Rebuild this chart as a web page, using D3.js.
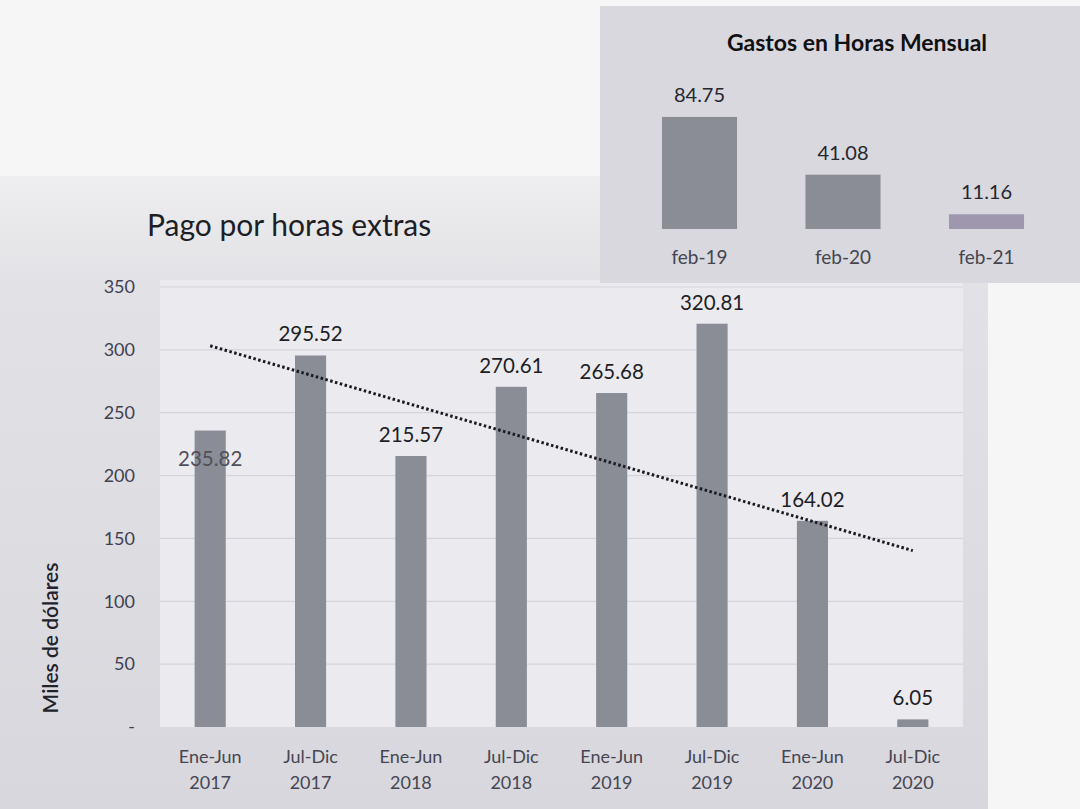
<!DOCTYPE html>
<html>
<head>
<meta charset="utf-8">
<script src="https://cdn.jsdelivr.net/npm/d3@7"></script>
<style>
  body { margin: 0; background: #f6f6f6; }
  svg { display: block; font-family: Lato, "Open Sans", sans-serif; }
</style>
</head>
<body>
<script>
const W = 1080;
const H = 809;

// main chart data
const periods = ["Ene-Jun", "Jul-Dic", "Ene-Jun", "Jul-Dic", "Ene-Jun", "Jul-Dic", "Ene-Jun", "Jul-Dic"];
const years = ["2017", "2017", "2018", "2018", "2019", "2019", "2020", "2020"];
const pagos = [235.82, 295.52, 215.57, 270.61, 265.68, 320.81, 164.02, 6.05];
const yTicks = [0, 50, 100, 150, 200, 250, 300, 350];
const insideLabels = [0]; // index of the label drawn inside its bar

// inset data
const meses = ["feb-19", "feb-20", "feb-21"];
const gastos = [84.75, 41.08, 11.16];

const svg = d3.select("body")
  .append("svg")
  .attr("width", W)
  .attr("height", H);

// ---- main panel ----
const defs = svg.append("defs");
const grad = defs.append("linearGradient")
  .attr("id", "panelGrad")
  .attr("x1", 0).attr("y1", 0).attr("x2", 0).attr("y2", 1);
grad.append("stop").attr("offset", "0").attr("stop-color", "#eeeef0");
grad.append("stop").attr("offset", "0.17").attr("stop-color", "#e2e2e6");
grad.append("stop").attr("offset", "1").attr("stop-color", "#d7d7dd");

svg.append("rect")
  .attr("x", 0).attr("y", 176)
  .attr("width", 988).attr("height", H - 176)
  .attr("fill", "url(#panelGrad)");

const Lpad = 160, Rpad = 963, Tpad = 287, Bpad = 727;

svg.append("rect")
  .attr("x", Lpad).attr("y", 280)
  .attr("width", Rpad - Lpad).attr("height", Bpad - 280)
  .attr("fill", "#ebebef");

const xScale = d3.scaleBand()
  .domain(d3.range(pagos.length))
  .range([Lpad, Rpad])
  .paddingInner(0.69)
  .paddingOuter(0.345);

const yScale = d3.scaleLinear()
  .domain([0, 350])
  .range([Bpad, Tpad]);

// gridlines
svg.append("g")
  .selectAll("line")
  .data(yTicks.slice(1))
  .enter()
  .append("line")
  .attr("x1", Lpad).attr("x2", Rpad)
  .attr("y1", d => yScale(d)).attr("y2", d => yScale(d))
  .attr("stroke", "#d3d3db")
  .attr("stroke-width", 1.2);

const yAxis = d3.axisLeft(yScale)
  .tickValues(yTicks)
  .tickSize(0)
  .tickPadding(0)
  .tickFormat(d => d === 0 ? "-" : d);

svg.append("g")
  .attr("transform", "translate(135,0)")
  .call(yAxis)
  .call(g => g.select(".domain").remove())
  .call(g => g.selectAll("text")
    .attr("fill", "#404050")
    .style("font-size", "18px")
    .style("font-family", "Lato, sans-serif"));

svg.append("text")
  .text("Miles de dólares")
  .attr("transform", "translate(58,638) rotate(-90)")
  .attr("text-anchor", "middle")
  .attr("fill", "#22222c")
  .style("font-size", "21px")
  .style("font-weight", "600");

// bars
svg.selectAll(".bar")
  .data(pagos)
  .enter()
  .append("rect")
  .attr("class", "bar")
  .attr("x", (d, i) => xScale(i))
  .attr("y", d => yScale(d))
  .attr("width", xScale.bandwidth())
  .attr("height", d => Bpad - yScale(d))
  .attr("fill", "#8a8c96");

// trendline (least squares)
const n = pagos.length;
const xMean = (n - 1) / 2;
const yMean = d3.mean(pagos);
const slope = d3.sum(pagos, (d, i) => (i - xMean) * (d - yMean)) / d3.sum(pagos, (d, i) => (i - xMean) ** 2);
const trend = [0, n - 1].map(i => [i, yMean + slope * (i - xMean)]);

svg.append("path")
  .datum(trend)
  .attr("d", d3.line()
    .x(d => xScale(d[0]) + xScale.bandwidth() / 2)
    .y(d => yScale(d[1])))
  .attr("fill", "none")
  .attr("stroke", "#1a1a22")
  .attr("stroke-width", 3)
  .attr("stroke-dasharray", "2.5 2.5");

// value labels
svg.selectAll(".vlabel")
  .data(pagos)
  .enter()
  .append("text")
  .attr("class", "vlabel")
  .text(d => d.toFixed(2))
  .attr("x", (d, i) => xScale(i) + xScale.bandwidth() / 2)
  .attr("y", (d, i) => insideLabels.includes(i) ? yScale(d) + 35 : yScale(d) - 14)
  .attr("text-anchor", "middle")
  .attr("fill", (d, i) => insideLabels.includes(i) ? "#50505a" : "#1e1e26")
  .style("font-size", "20.5px");

// x labels
const xl = svg.append("g");
xl.selectAll(".p")
  .data(periods)
  .enter()
  .append("text")
  .text(d => d)
  .attr("x", (d, i) => xScale(i) + xScale.bandwidth() / 2)
  .attr("y", 763)
  .attr("text-anchor", "middle")
  .attr("fill", "#464652")
  .style("font-size", "18px");
xl.selectAll(".yr")
  .data(years)
  .enter()
  .append("text")
  .text(d => d)
  .attr("x", (d, i) => xScale(i) + xScale.bandwidth() / 2)
  .attr("y", 789)
  .attr("text-anchor", "middle")
  .attr("fill", "#464652")
  .style("font-size", "18px");

svg.append("text")
  .text("Pago por horas extras")
  .attr("x", 147)
  .attr("y", 236)
  .attr("fill", "#1e1e26")
  .style("font-size", "30px");

// ---- inset ----
svg.append("rect")
  .attr("x", 600).attr("y", 6)
  .attr("width", W - 600).attr("height", 277)
  .attr("fill", "#d8d8de");

const ix = d3.scaleBand()
  .domain(meses)
  .range([627.75, 1058.25])
  .paddingInner(0.477)
  .paddingOuter(0.2385);

const iy = d3.scaleLinear()
  .domain([0, 90])
  .range([229, 110]);

svg.selectAll(".ibar")
  .data(gastos)
  .enter()
  .append("rect")
  .attr("class", "ibar")
  .attr("x", (d, i) => ix(meses[i]))
  .attr("y", d => iy(d))
  .attr("width", ix.bandwidth())
  .attr("height", d => 229 - iy(d))
  .attr("fill", (d, i) => i === 2 ? "#9e97ad" : "#8b8d95");

svg.selectAll(".ival")
  .data(gastos)
  .enter()
  .append("text")
  .text(d => d.toFixed(2))
  .attr("x", (d, i) => ix(meses[i]) + ix.bandwidth() / 2)
  .attr("y", d => iy(d) - 15)
  .attr("text-anchor", "middle")
  .attr("fill", "#26262e")
  .style("font-size", "20px");

svg.selectAll(".icat")
  .data(meses)
  .enter()
  .append("text")
  .text(d => d)
  .attr("x", d => ix(d) + ix.bandwidth() / 2)
  .attr("y", 264)
  .attr("text-anchor", "middle")
  .attr("fill", "#45454f")
  .style("font-size", "19px");

svg.append("text")
  .text("Gastos en Horas Mensual")
  .attr("x", 857)
  .attr("y", 51)
  .attr("text-anchor", "middle")
  .attr("fill", "#111")
  .style("font-size", "23px")
  .style("font-weight", "bold");
</script>
</body>
</html>
